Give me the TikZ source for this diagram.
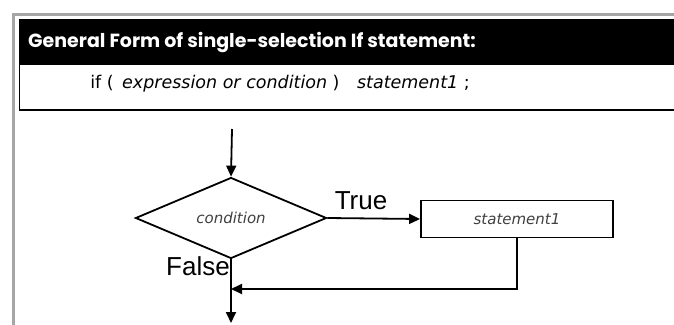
\documentclass[tikz,border=0pt]{standalone}
\usepackage{fontspec}
\setmainfont{Liberation Sans}
\newfontfamily\titlefont{Poppins}
\newfontfamily\codefont{DejaVu Sans}
\usetikzlibrary{shapes.geometric}
\usetikzlibrary{arrows.meta}
\usetikzlibrary{positioning}

\begin{document}
\begin{tikzpicture}[x=1pt,y=-1pt,
  decision/.style={diamond,draw,line width=1.8pt,minimum width=191pt,minimum height=72pt,inner sep=0pt,
    text=black!75,font=\codefont\itshape\fontsize{15}{17}\selectfont},
  process/.style={rectangle,draw,line width=1.8pt,minimum width=192pt,minimum height=37pt,inner sep=0pt,
    text=black!75,font=\codefont\itshape\fontsize{15}{17}\selectfont},
  flow/.style={line width=1.8pt,-{Triangle[length=11pt,width=10pt]}},
  lbl/.style={inner sep=0pt,font=\fontsize{26}{28}\selectfont}]
\useasboundingbox (0,0) rectangle (674,324);
% frame and header
\draw[gray!70,line width=3pt] (13.5,340) -- (13.5,14.5) -- (690,14.5);
\fill (19,19) rectangle (690,65);
\draw[line width=1.2pt] (19.5,65) -- (19.5,110) -- (690,110);
\node[anchor=west,inner sep=0pt,text=white,font=\titlefont\bfseries\fontsize{19}{21}\selectfont] (title) at (28,43)
  {General Form of single-selection If statement:};
\node[inner sep=0pt,font=\codefont\fontsize{17.5}{20}\selectfont] (form) at (280,84)
  {if (\, \textit{expression or condition} )\quad\textit{statement1} ;};

% flowchart
\coordinate (start) at (232,129);
\node[decision] (cond) at (231,218) {condition};
\node[process] (stmt) at (517,219) {statement1};
\coordinate (join) at (cond.south |- 0,289);
\coordinate (exit) at (cond.south |- 0,323);
\draw[flow] (start) -- (cond.north);
\draw[flow] (cond.east) -- (stmt.west);
\draw[flow] (stmt.south) |- (join);
\draw[flow] (cond.south) -- (exit);
\node[lbl] (true) at (361,201) {True};
\node[lbl,anchor=east] (false) at (230,266) {False};
\end{tikzpicture}
\end{document}
